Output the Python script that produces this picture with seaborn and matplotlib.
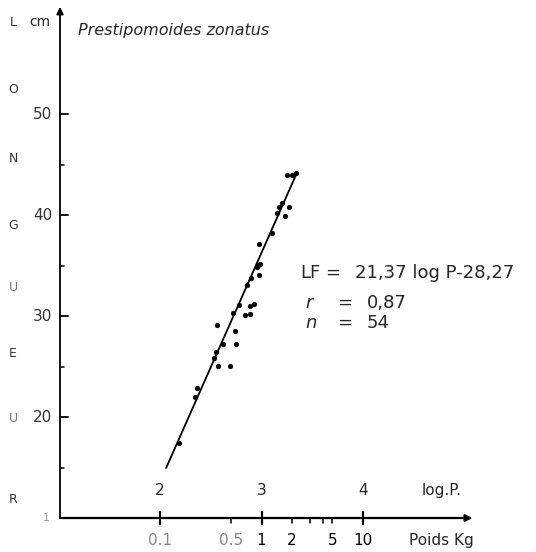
import numpy as np
import pandas as pd
import matplotlib
matplotlib.use("Agg")
import matplotlib.pyplot as plt
import seaborn as sns

# ---- data ----
log_p = [3.251, 3.300, 3.340, 3.202, 3.172, 3.271, 3.153, 3.232, 3.103, 2.975,
         2.966, 2.985, 2.956, 2.975, 2.897, 2.857, 2.778, 2.887, 2.926, 2.719,
         2.837, 2.887, 2.562, 2.739, 2.621, 2.749, 2.552, 2.532, 2.571, 2.690,
         2.365, 2.345, 2.187]
length_cm = [43.96, 43.96, 44.16, 41.19, 40.79, 40.79, 40.20, 39.90, 38.22, 37.13,
             35.05, 35.15, 34.85, 34.06, 33.76, 33.07, 31.09, 30.99, 31.19, 30.30,
             30.10, 30.20, 29.11, 28.51, 27.23, 27.23, 26.44, 25.84, 25.05, 25.05,
             22.87, 21.98, 17.43]
line_log_p = [2.06, 3.35]
line_len = [14.95, 44.2]

y_major = [20, 30, 40, 50]
y_major_labels = ["20", "30", "40", "50"]
y_minor = [15, 25, 35, 45]
x_log_ticks = [2, 3, 4]
x_log_labels = ["2", "3", "4"]
kg_ticks = [0.1, 0.5, 1, 2, 5, 10]
kg_labels = ["0.1", "0.5", "1", "2", "5", "10"]
kg_minor = [3, 4]
side_letters = list("LONGUEUR")
side_letter_y = [59.1, 52.4, 45.6, 39.0, 32.8, 26.3, 19.9, 11.8]

title = "Prestipomoides zonatus"
eq_names = ["LF", "r", "n"]
eq_values = ["21,37 log P-28,27", "0,87", "54"]

# ---- figure ----
sns.set_theme(style="white")
plt.rcParams['font.family'] = ['DejaVu Sans']
fig = plt.figure(figsize=(5.36, 5.52), dpi=100)
ax = fig.add_axes([0, 0, 1, 1])
ax.set_xlim(0.4236, 5.7044)
ax.set_ylim(6.634, 61.29)
ax.axis("off")

df = pd.DataFrame({"logP": log_p, "L": length_cm})
sns.scatterplot(data=df, x="logP", y="L", ax=ax, color="black", s=12,
                marker="o", edgecolor="black", linewidth=0.3, legend=False)
ldf = pd.DataFrame({"logP": line_log_p, "L": line_len})
sns.lineplot(data=ldf, x="logP", y="L", ax=ax, color="black", lw=1.3)

# axes with arrows
x0, y0 = 1.0148, 10.0
ax.annotate("", xy=(x0, 60.6), xytext=(x0, y0),
            arrowprops=dict(arrowstyle="-|>", color="black", lw=1.3,
                            mutation_scale=10, shrinkA=0, shrinkB=0))
ax.annotate("", xy=(5.08, y0), xytext=(x0, y0),
            arrowprops=dict(arrowstyle="-|>", color="black", lw=1.6,
                            mutation_scale=10, shrinkA=0, shrinkB=0))

px_x = 1 / 101.5
px_y = 1 / 10.1


def px2x(px):
    return 2 + (px - 160) * px_x


def px2y(py):
    return 10 + (518 - py) * px_y


# y ticks
for v, lab in zip(y_major, y_major_labels):
    ax.plot([x0, x0 + 8 * px_x], [v, v], color="black", lw=1.3)
    ax.text(x0 - 8 * px_x, v, lab, ha="right", va="center", fontsize=11,
            color="#333333")
for v in y_minor:
    ax.plot([x0, x0 + 4 * px_x], [v, v], color="black", lw=1.1)
ax.text(x0 - 10 * px_x, y0, "1", ha="right", va="center", fontsize=8,
        color="#999999")

# x ticks
for v, lab in zip(x_log_ticks, x_log_labels):
    ax.plot([v, v], [y0 - 6 * px_y, y0 + 6 * px_y], color="black", lw=1.6)
    ax.text(v, y0 + 28 * px_y, lab, ha="center", va="center", fontsize=11)
ax.text(4.77, y0 + 28 * px_y, "log.P.", ha="center", va="center", fontsize=11)
for v, lab in zip(kg_ticks, kg_labels):
    lp = np.log10(v * 1000)
    ax.plot([lp, lp], [y0, y0 - 5 * px_y], color="black", lw=1.1)
    faint = v < 1
    ax.text(lp, y0 - 22 * px_y, lab, ha="center", va="center", fontsize=11,
            color="#888888" if faint else "black")
for v in kg_minor:
    lp = np.log10(v * 1000)
    ax.plot([lp, lp], [y0, y0 - 5 * px_y], color="black", lw=1.1)
ax.text(4.77, y0 - 22 * px_y, "Poids Kg", ha="center", va="center", fontsize=11)

# side letters
for ch, yy in zip(side_letters, side_letter_y):
    ax.text(px2x(13), yy, ch, ha="center", va="center", fontsize=9,
            color="#333333" if ch != "U" else "#777777")
ax.text(px2x(40), 59.1, "cm", ha="center", va="center", fontsize=10)

# title
ax.text(px2x(78), px2y(30), title, ha="left", va="center", fontsize=11.5,
        style="italic")

# equation block
eq_rows = [273, 303, 323]
name_x = [300, 305, 305]
eq_sign_x = [325, 337, 337]
val_x = [355, 367, 367]
for nm, val, ry, nx, ex, vx in zip(eq_names, eq_values, eq_rows, name_x,
                                   eq_sign_x, val_x):
    ax.text(px2x(nx), px2y(ry), nm, ha="left", va="center", fontsize=13,
            style="normal" if nm == "LF" else "italic")
    ax.text(px2x(ex), px2y(ry), "=", ha="left", va="center", fontsize=13)
    ax.text(px2x(vx), px2y(ry), val, ha="left", va="center", fontsize=13)

fig.savefig("out.png", dpi=100, facecolor="white")
